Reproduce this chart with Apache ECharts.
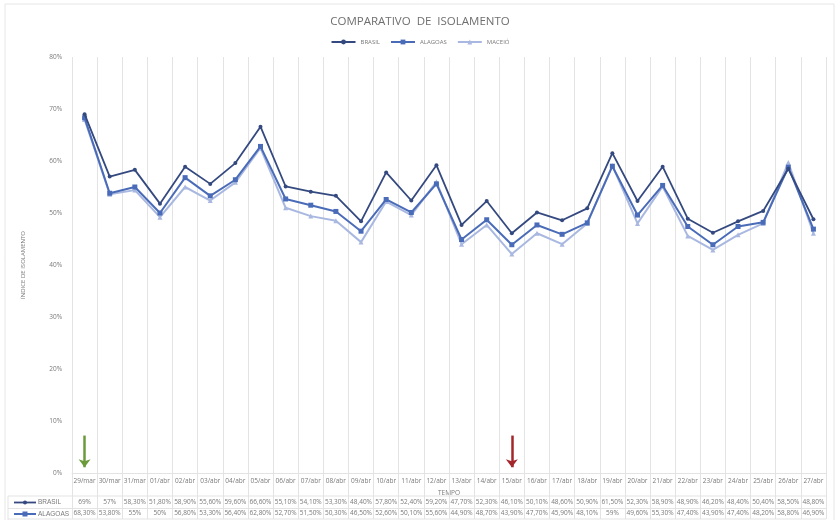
<!DOCTYPE html>
<html>
<head>
<meta charset="utf-8">
<script src="https://cdn.jsdelivr.net/npm/echarts@6/dist/echarts.min.js"></script>
<style>
  html, body { margin: 0; padding: 0; background: #fff; }
  #chart { width: 840px; height: 520px; }
</style>
</head>
<body>
<div id="chart"></div>
<script>
const days = ['29/mar', '30/mar', '31/mar', '01/abr', '02/abr', '03/abr', '04/abr', '05/abr', '06/abr', '07/abr',
  '08/abr', '09/abr', '10/abr', '11/abr', '12/abr', '13/abr', '14/abr', '15/abr', '16/abr', '17/abr',
  '18/abr', '19/abr', '20/abr', '21/abr', '22/abr', '23/abr', '24/abr', '25/abr', '26/abr', '27/abr']

const brasil = [69, 57, 58.3, 51.8, 58.9, 55.6, 59.6, 66.6, 55.1, 54.1,
  53.3, 48.4, 57.8, 52.4, 59.2, 47.7, 52.3, 46.1, 50.1, 48.6,
  50.9, 61.5, 52.3, 58.9, 48.9, 46.2, 48.4, 50.4, 58.5, 48.8]

const alagoas = [68.3, 53.8, 55, 50, 56.8, 53.3, 56.4, 62.8, 52.7, 51.5,
  50.3, 46.5, 52.6, 50.1, 55.6, 44.9, 48.7, 43.9, 47.7, 45.9,
  48.1, 59, 49.6, 55.3, 47.4, 43.9, 47.4, 48.2, 58.8, 46.9]

const maceio = [68.0, 53.6, 54.4, 49.2, 55.0, 52.4, 55.9, 62.5, 51.0, 49.4,
  48.5, 44.4, 52.2, 49.6, 56.0, 44.0, 47.7, 42.1, 46.1, 44.0,
  48.0, 59.1, 48.0, 55.1, 45.6, 42.9, 45.8, 48.0, 59.7, 46.1]

// dias marcados com seta (verde = início, vermelho = marco)
const arrowDays = ['29/mar', '15/abr']
const arrowTop = 7.2
const arrowBottom = 1.1

const C_BR = '#34497f'
const C_AL = '#4a6cb8'
const C_MC = '#a9b8e0'
const GRID = '#e3e3e3'
const TXT = '#7a7a7a'

// 58.3 -> "58,30%", 69 -> "69%"
const pct = v => Number.isInteger(v) ? v + '%' : v.toFixed(2).replace('.', ',') + '%'

const chart = echarts.init(document.getElementById('chart'))

const tableAxis = (values, offset) => ({
  type: 'category', data: days, position: 'bottom', offset: offset,
  axisLine: { show: false }, axisTick: { show: false },
  axisLabel: { interval: 0, fontSize: 6.5, color: TXT, margin: 5, formatter: (v, i) => pct(values[i]) }
})

const option = {
  backgroundColor: '#fff',
  textStyle: { fontFamily: 'Open Sans, Liberation Sans, sans-serif' },
  title: {
    text: 'COMPARATIVO  DE  ISOLAMENTO', left: 'center', top: 11,
    textStyle: { fontSize: 11.5, fontWeight: 'normal', color: '#6f6f6f' }
  },
  legend: {
    top: 34, left: 'center', itemWidth: 24, itemHeight: 6, itemGap: 10,
    textStyle: { fontSize: 6, color: TXT },
    data: ['BRASIL', 'ALAGOAS', 'MACEIÓ']
  },
  grid: { left: 72, right: 14, top: 57, bottom: 47 },
  xAxis: [
    {
      type: 'category', data: days, boundaryGap: true,
      axisLine: { show: true, lineStyle: { color: GRID } },
      axisTick: { show: true, length: 46, lineStyle: { color: GRID } },
      splitLine: { show: true, lineStyle: { color: GRID, width: 1 } },
      axisLabel: { interval: 0, fontSize: 6.5, color: TXT, margin: 5 },
      name: 'TEMPO', nameLocation: 'middle', nameGap: 14,
      nameTextStyle: { fontSize: 6.5, color: TXT }
    },
    tableAxis(brasil, 21),
    tableAxis(alagoas, 32)
  ],
  yAxis: {
    type: 'value', min: 0, max: 80, interval: 10,
    axisLine: { show: false }, axisTick: { show: false }, splitLine: { show: false },
    axisLabel: { formatter: '{value}%', fontSize: 6.5, color: TXT, margin: 10 },
    name: 'ÍNDICE DE ISOLAMENTO', nameLocation: 'middle', nameGap: 46, nameRotate: 90,
    nameTextStyle: { fontSize: 6, color: TXT }
  },
  series: [
    {
      name: 'MACEIÓ', type: 'line', data: maceio, z: 2,
      symbol: 'triangle', symbolSize: 5,
      lineStyle: { color: C_MC, width: 2 }, itemStyle: { color: C_MC }
    },
    {
      name: 'ALAGOAS', type: 'line', data: alagoas, z: 3,
      symbol: 'rect', symbolSize: 5,
      lineStyle: { color: C_AL, width: 2 }, itemStyle: { color: C_AL }
    },
    {
      name: 'BRASIL', type: 'line', data: brasil, z: 4,
      symbol: 'circle', symbolSize: 4,
      lineStyle: { color: C_BR, width: 1.8 }, itemStyle: { color: C_BR },
      markLine: {
        silent: true, symbol: ['none', 'arrow'], symbolSize: [9, 8],
        label: { show: false },
        lineStyle: { type: 'solid', width: 2.5 },
        data: [
          [{ coord: [arrowDays[0], arrowTop], lineStyle: { color: '#6b9a3c' }, itemStyle: { color: '#6b9a3c' } },
           { coord: [arrowDays[0], arrowBottom] }],
          [{ coord: [arrowDays[1], arrowTop], lineStyle: { color: '#a3262b' }, itemStyle: { color: '#a3262b' } },
           { coord: [arrowDays[1], arrowBottom] }]
        ]
      }
    }
  ],
  graphic: [
    { type: 'rect', shape: { x: 5, y: 4, width: 829, height: 520 }, style: { fill: 'none', stroke: '#e6e6e6' }, silent: true },
    { type: 'line', shape: { x1: 8, y1: 496, x2: 826, y2: 496 }, style: { stroke: GRID } },
    { type: 'line', shape: { x1: 8, y1: 508.5, x2: 826, y2: 508.5 }, style: { stroke: GRID } },
    { type: 'line', shape: { x1: 8, y1: 519, x2: 826, y2: 519 }, style: { stroke: GRID } },
    { type: 'line', shape: { x1: 8, y1: 496, x2: 8, y2: 520 }, style: { stroke: GRID } },
    { type: 'line', shape: { x1: 14, y1: 502.5, x2: 36, y2: 502.5 }, style: { stroke: C_BR, lineWidth: 1.8 } },
    { type: 'circle', shape: { cx: 25, cy: 502.5, r: 2 }, style: { fill: C_BR } },
    { type: 'text', left: 38, top: 499, style: { text: 'BRASIL', fontSize: 6.5, fill: TXT } },
    { type: 'line', shape: { x1: 14, y1: 514, x2: 36, y2: 514 }, style: { stroke: C_AL, lineWidth: 2 } },
    { type: 'rect', shape: { x: 22.5, y: 511.5, width: 5, height: 5 }, style: { fill: C_AL } },
    { type: 'text', left: 38, top: 510.5, style: { text: 'ALAGOAS', fontSize: 6.5, fill: TXT } }
  ]
}

chart.setOption(option)
window.addEventListener('resize', () => chart.resize())
</script>
</body>
</html>
